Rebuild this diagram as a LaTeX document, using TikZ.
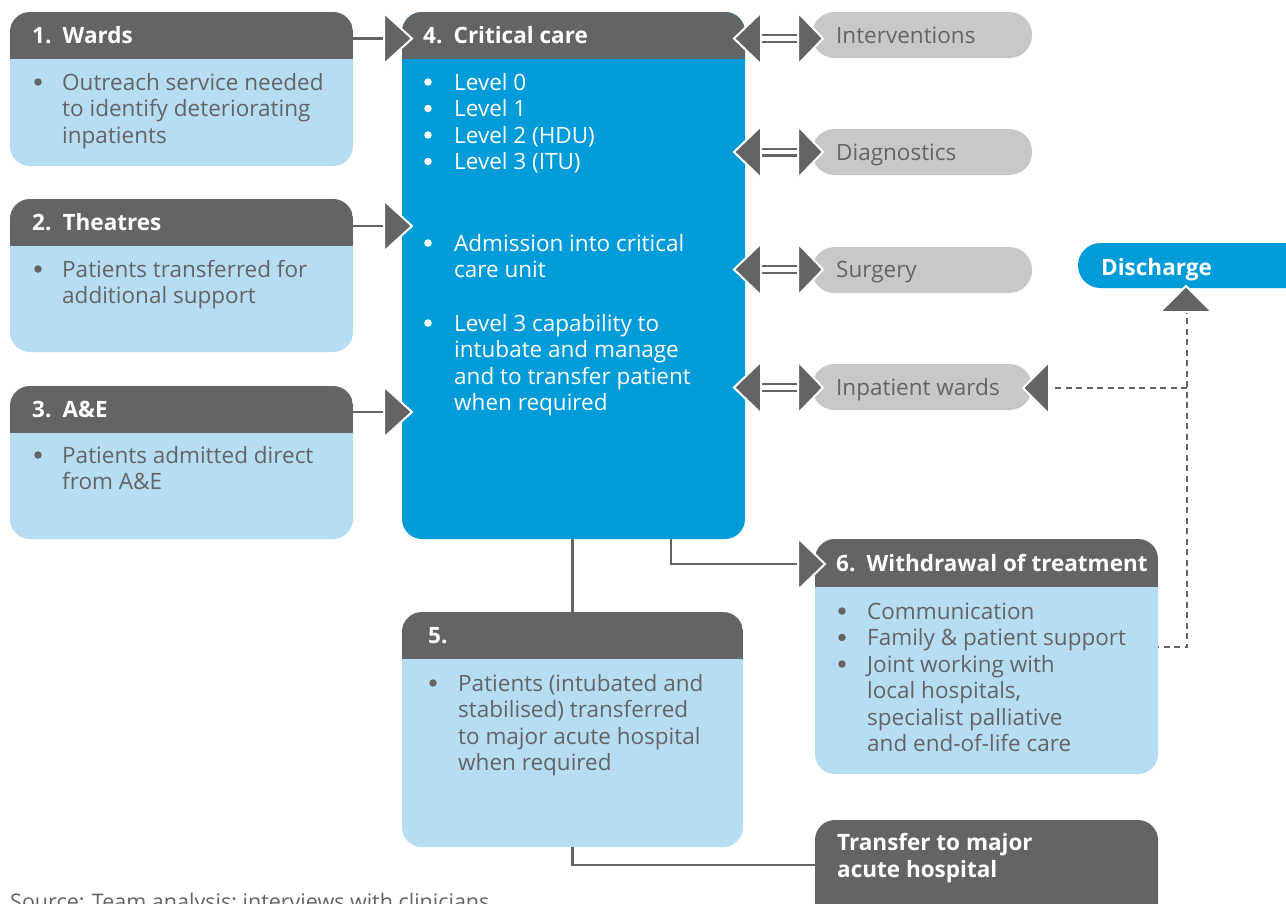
\documentclass[tikz,border=0pt]{standalone}
\usepackage{fontspec}
\setmainfont{Open Sans}
\definecolor{cdark}{RGB}{99,100,102}
\definecolor{clight}{RGB}{183,221,243}
\definecolor{cblue}{RGB}{0,155,217}
\definecolor{cpill}{RGB}{199,200,202}
\newcommand\fsz{\fontsize{22.5}{26.5}\selectfont}
\newcommand\hdrband[2]{\begin{scope}\clip[rounded corners=20pt] (#1.north west) rectangle (#1.south east);
  \fill[cdark] (#1.north west) rectangle ([yshift=-#2]#1.north east);\end{scope}}
\newcommand\num[1]{\makebox[30.5pt][l]{#1}}
\begin{document}
\begin{tikzpicture}[x=1pt,y=-1pt,
  boxshape/.style={rounded corners=20pt, anchor=north west, inner sep=0pt, outer sep=0pt},
  lbox/.style={boxshape, fill=clight},
  bbox/.style={boxshape, fill=cblue},
  dbox/.style={boxshape, fill=cdark},
  pill/.style={rounded corners=22.5pt, anchor=north west, inner sep=0pt, outer sep=0pt, fill=cpill},
  ttl/.style={anchor=base west, text=white, font=\fsz\bfseries, inner sep=0pt, align=left},
  bodytxt/.style={anchor=base west, text=cdark, font=\fsz, inner sep=0pt, align=left},
  wtxt/.style={bodytxt, text=white},
  bul/.style={circle, fill=cdark, minimum size=7.5pt, inner sep=0pt, yshift=8pt},
  wbul/.style={bul, fill=white},
  tri/.style={fill=cdark, draw=white, line width=2pt, line join=miter},
  conn/.style={draw=cdark, line width=2.6pt},
  dashline/.style={draw=cdark, line width=2.6pt, dash pattern=on 6pt off 4.5pt},
  dbl/.style={draw=cdark, line width=2.4pt}
]
\useasboundingbox (0,0) rectangle (1286,903);
\fill[white] (0,0) rectangle (1286,903);

% (multi-line text nodes are placed by the baseline of their LAST line;
%  bullets are placed at their line's baseline and shifted up)

% ---------- Box 1 ----------
\node[lbox, minimum width=343pt, minimum height=154pt] (b1) at (10,12) {};
\hdrband{b1}{47pt}
\node[ttl] (t1) at (32,43) {\num{1.}Wards};
\node[bul] (u1) at (38,90) {};
\node[bodytxt] (x1) at (62,143) {Outreach service needed\\to identify deteriorating\\inpatients};

% ---------- Box 2 ----------
\node[lbox, minimum width=343pt, minimum height=153pt] (b2) at (10,199) {};
\hdrband{b2}{47pt}
\node[ttl] (t2) at (32,230) {\num{2.}Theatres};
\node[bul] (u2) at (38,277) {};
\node[bodytxt] (x2) at (62,303.5) {Patients transferred for\\additional support};

% ---------- Box 3 ----------
\node[lbox, minimum width=343pt, minimum height=153pt] (b3) at (10,386) {};
\hdrband{b3}{47pt}
\node[ttl] (t3) at (32,417) {\num{3.}A\&E};
\node[bul] (u3) at (38,463) {};
\node[bodytxt] (x3) at (62,489.5) {Patients admitted direct\\from A\&E};

% ---------- Box 4 ----------
\node[bbox, minimum width=343pt, minimum height=527pt] (b4) at (402,12) {};
\hdrband{b4}{47pt}
\node[ttl] (t4) at (423,43) {\num{4.}Critical care};
\node[wbul] (u4a) at (428,90) {};
\node[wbul] (u4b) at (428,116.5) {};
\node[wbul] (u4c) at (428,143) {};
\node[wbul] (u4d) at (428,169.5) {};
\node[wtxt] (x4a) at (454,169.5) {Level 0\\Level 1\\Level 2 (HDU)\\Level 3 (ITU)};
\node[wbul] (u4e) at (428,251) {};
\node[wtxt] (x4e) at (454,277.5) {Admission into critical\\care unit};
\node[wbul] (u4f) at (428,331) {};
\node[wtxt] (x4f) at (454,410.5) {Level 3 capability to\\intubate and manage\\and to transfer patient\\when required};

% ---------- incoming arrows ----------
\coordinate (a1) at (384,38.5);
\coordinate (a2) at (384,226);
\coordinate (a3) at (384,412);
\foreach \c/\b in {a1/b1,a2/b2,a3/b3}{
  \draw[conn] (\b.east |- \c) -- (\c);
  \filldraw[tri, shift={(\c)}] (0,-25.5) -- (28,0) -- (0,25.5) -- cycle;
}

% ---------- pills ----------
\node[pill, minimum width=220pt, minimum height=46pt] (p1) at (812,12) {};
\node[pill, minimum width=220pt, minimum height=46pt] (p2) at (812,129) {};
\node[pill, minimum width=220pt, minimum height=46pt] (p3) at (812,247) {};
\node[pill, minimum width=220pt, minimum height=46pt] (p4) at (812,364) {};
\node[bodytxt] (q1) at (836,43) {Interventions};
\node[bodytxt] (q2) at (836,160) {Diagnostics};
\node[bodytxt] (q3) at (836,277) {Surgery};
\node[bodytxt] (q4) at (836,395) {Inpatient wards};

% double arrows between critical care and pills
\coordinate (d1) at (734,38.5);
\coordinate (d2) at (734,152);
\coordinate (d3) at (734,269.5);
\coordinate (d4) at (734,387.5);
\foreach \c in {d1,d2,d3,d4}{
  \begin{scope}[shift={(\c)}]
  \draw[dbl] (27,-3.3) -- (64,-3.3);
  \draw[dbl] (27,3.3) -- (64,3.3);
  \filldraw[tri] (27,-26) -- (0,0) -- (27,26) -- cycle;
  \filldraw[tri] (64,-26) -- (89,0) -- (64,26) -- cycle;
  \end{scope}
}

% ---------- Discharge ----------
\node[pill, fill=cblue, minimum width=240pt, minimum height=45pt] (dis) at (1078,243) {};
\node[ttl] (dt) at (1101,275) {Discharge};
\coordinate (up) at (1186,286);
\coordinate (iw) at (1023,388);
\coordinate (cr) at (1187,388);
\coordinate (w6) at (1153,647);
\coordinate (cb) at (1187,647);
\draw[dashline] (w6) -- (cb) -- (cr |- 0,311);
\draw[dashline] (cr) -- (1054,388);
\filldraw[tri] (iw) -- (1049,362) -- (1049,414) -- cycle;
\filldraw[tri] (up) -- (1212,312) -- (1160,312) -- cycle;

% ---------- Box 6 ----------
\node[lbox, minimum width=343pt, minimum height=235pt] (b6) at (815,539) {};
\hdrband{b6}{48pt}
\node[ttl] (t6) at (836,571) {\num{6.}Withdrawal of treatment};
\node[bul] (u6a) at (842,619) {};
\node[bul] (u6b) at (842,645.5) {};
\node[bul] (u6c) at (842,672) {};
\node[bodytxt] (x6) at (867,751.5) {Communication\\Family \& patient support\\Joint working with\\local hospitals,\\specialist palliative\\and end-of-life care};

% arrow critical care -> box 6
\coordinate (e6) at (797,564);
\draw[conn] (671,539) -- (671,564) -- (e6);
\filldraw[tri, shift={(e6)}] (1,-26) -- (28,0) -- (1,26) -- cycle;

% ---------- Box 5 ----------
\node[lbox, minimum width=341pt, minimum height=235pt] (b5) at (402,612) {};
\hdrband{b5}{47pt}
\node[ttl] (t5) at (428,643) {5.};
\node[bul] (u5) at (433,691) {};
\node[bodytxt] (x5) at (458,770.5) {Patients (intubated and\\stabilised) transferred\\to major acute hospital\\when required};
\draw[conn] (b5.north |- b4.south) -- (b5.north);

% ---------- Transfer ----------
\node[dbox, minimum width=343pt, minimum height=110pt] (tr) at (815,820) {};
\node[ttl] (tt) at (837,877) {Transfer to major\\acute hospital};
\draw[conn] (b5.south) -- (b5.south |- 0,865) -- (tr.west |- 0,865);

% ---------- source ----------
\node[bodytxt, font=\fontsize{21.5}{25}\selectfont] (src) at (10,909) {Source: Team analysis; interviews with clinicians};
\end{tikzpicture}
\end{document}
